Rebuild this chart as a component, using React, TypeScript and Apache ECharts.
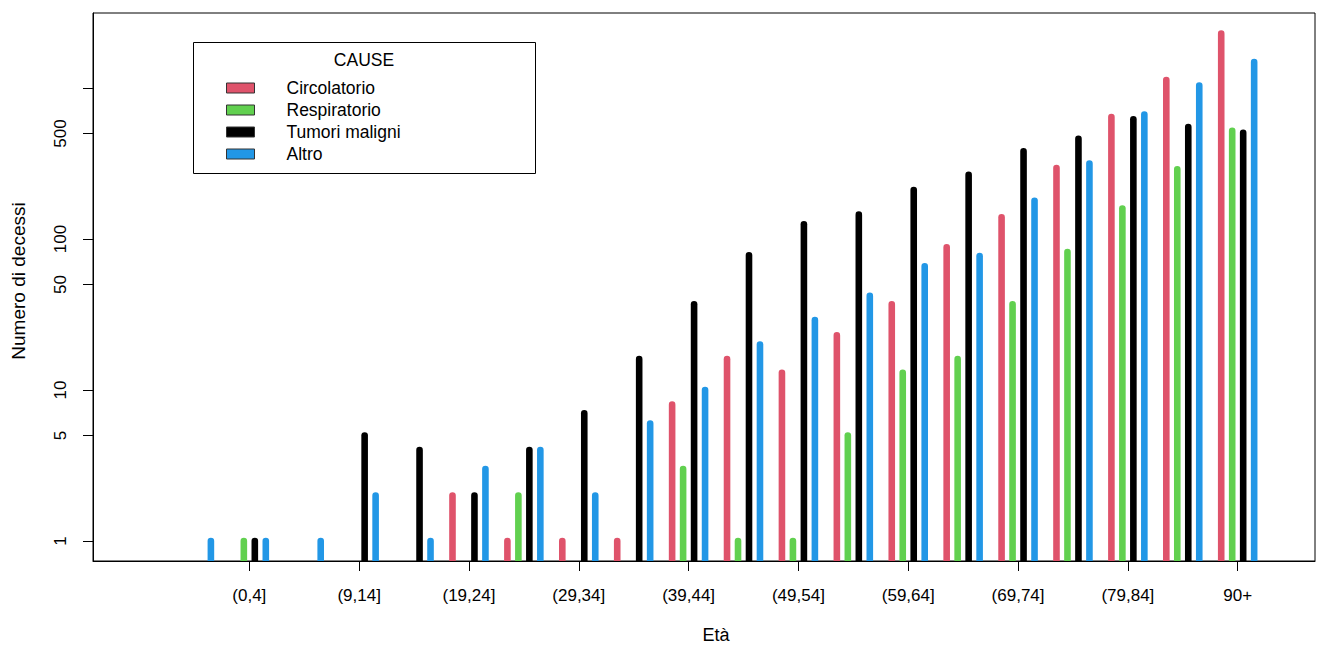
import React, { useEffect, useRef } from "react";
import * as echarts from "echarts";

const ageGroups = [
  "0", "(0,4]", "(4,9]", "(9,14]", "(14,19]", "(19,24]", "(24,29]", "(29,34]", "(34,39]", "(39,44]",
  "(44,49]", "(49,54]", "(54,59]", "(59,64]", "(64,69]", "(69,74]", "(74,79]", "(79,84]", "(84,89]", "90+",
];
const causes = ["Circolatorio", "Respiratorio", "Tumori maligni", "Altro"];
const colors = ["#DF536B", "#61D04F", "#000000", "#2297E6"];

const circolatorio = [null, null, null, null, null, 2, 1, 1, 1, 8, 16, 13, 23, 37, 88, 139, 295, 643, 1130, 2290];
const respiratorio = [null, 1, null, null, null, null, 2, null, null, 3, 1, 1, 5, 13, 16, 37, 82, 159, 290, 521];
const tumoriMaligni = [null, 1, null, 5, 4, 2, 4, 7, 16, 37, 78, 125, 145, 211, 266, 381, 461, 620, 552, 505];
const altro = [1, 1, 1, 2, 1, 3, 4, 2, 6, 10, 20, 29, 42, 66, 77, 179, 316, 668, 1040, 1486];

const yTickValues = [1, 5, 10, 50, 100, 500, 1000];
const yLabelValues = [1, 5, 10, 50, 100, 500];
const xLabelIndices = [1, 3, 5, 7, 9, 11, 13, 15, 17, 19];

const seriesValues = [circolatorio, respiratorio, tumoriMaligni, altro];
const offsets = [-0.3, -0.1, 0.1, 0.3];

const Y_MIN = -0.1325;
const Y_MAX = 3.4967;
const X_MIN = -1.847;
const X_MAX = 20.408;
const FONT = "'Liberation Sans', Arial, sans-serif";

export default function App() {
  const ref = useRef<HTMLDivElement>(null);
  useEffect(() => {
    if (!ref.current) return;
    const chart = echarts.init(ref.current, undefined, { renderer: "svg" });
    const barW = 6.6;
    const series = causes.map((name, s) => ({
      name,
      type: "custom",
      itemStyle: { color: colors[s] },
      encode: { x: 0, y: 1 },
      data: seriesValues[s]
        .map((v, i) => (v == null ? null : [i + offsets[s], Math.log10(v)]))
        .filter((d) => d !== null),
      renderItem: (params: any, api: any) => {
        const x = api.value(0);
        const v = api.value(1);
        const top = api.coord([x, v]);
        const base = api.coord([x, Y_MIN]);
        return {
          type: "rect",
          shape: {
            x: top[0] - barW / 2,
            y: top[1] - barW / 2,
            width: barW,
            height: base[1] - top[1] + barW / 2,
            r: [barW / 2, barW / 2, 0, 0],
          },
          style: { fill: api.visual("color") },
        };
      },
    }));
    chart.setOption({
      animation: false,
      backgroundColor: "#ffffff",
      grid: {
        left: 93,
        right: 15,
        top: 13,
        bottom: 85,
        show: true,
        borderColor: "#000",
        borderWidth: 1,
        backgroundColor: "transparent",
        containLabel: false,
        outerBoundsMode: "none",
      },
      xAxis: {
        type: "value",
        min: X_MIN,
        max: X_MAX,
        name: "Età",
        nameLocation: "middle",
        nameGap: 65,
        nameTextStyle: {
          fontSize: 18,
          lineHeight: 18,
          color: "#000",
          fontFamily: FONT,
          padding: [0, 0, 0, 24],
        },
        axisLine: { show: true, onZero: false, lineStyle: { color: "#000", width: 1 } },
        axisTick: {
          show: true,
          inside: false,
          length: 10,
          customValues: xLabelIndices,
          lineStyle: { color: "#000", width: 1 },
        },
        axisLabel: {
          show: true,
          customValues: xLabelIndices,
          formatter: (v: number) => ageGroups[Math.round(v)],
          fontSize: 17,
          color: "#000",
          fontFamily: FONT,
          margin: 26,
        },
        splitLine: { show: false },
      },
      yAxis: {
        type: "value",
        min: Y_MIN,
        max: Y_MAX,
        name: "Numero di decessi",
        nameLocation: "middle",
        nameGap: 65,
        nameTextStyle: { fontSize: 19, color: "#000", fontFamily: FONT, padding: [0, 0, 0, 12] },
        axisLine: { show: true, onZero: false, lineStyle: { color: "#000", width: 1 } },
        axisTick: {
          show: true,
          inside: false,
          length: 10,
          customValues: yTickValues.map((v) => Math.log10(v)),
          lineStyle: { color: "#000", width: 1 },
        },
        axisLabel: {
          show: true,
          customValues: yLabelValues.map((v) => Math.log10(v)),
          formatter: (v: number) => String(Math.round(Math.pow(10, v))),
          rotate: 90,
          fontSize: 17,
          color: "#000",
          fontFamily: FONT,
          margin: 24,
        },
        splitLine: { show: false },
      },
      legend: {
        data: causes,
        orient: "vertical",
        left: 226,
        top: 79,
        padding: 0,
        itemWidth: 28,
        itemHeight: 10,
        itemGap: 4,
        icon: "rect",
        itemStyle: { borderColor: "#333", borderWidth: 1 },
        textStyle: {
          fontSize: 17.5,
          color: "#000",
          fontFamily: FONT,
          lineHeight: 18,
          padding: [0, 0, 0, 27],
        },
        selectedMode: false,
      },
      graphic: [
        {
          type: "rect",
          shape: { x: 193.5, y: 42.5, width: 342, height: 131 },
          style: { fill: "none", stroke: "#000", lineWidth: 1 },
          z: 10,
        },
        {
          type: "text",
          x: 364,
          y: 60,
          style: {
            text: "CAUSE",
            fontSize: 17.5,
            fontFamily: FONT,
            fill: "#000",
            align: "center",
            verticalAlign: "middle",
          },
          z: 10,
        },
      ],
      series,
    });
    return () => chart.dispose();
  }, []);
  return (
    <div
      ref={ref}
      style={{ position: "fixed", left: 0, top: 0, width: 1330, height: 646, background: "#fff" }}
    />
  );
}
